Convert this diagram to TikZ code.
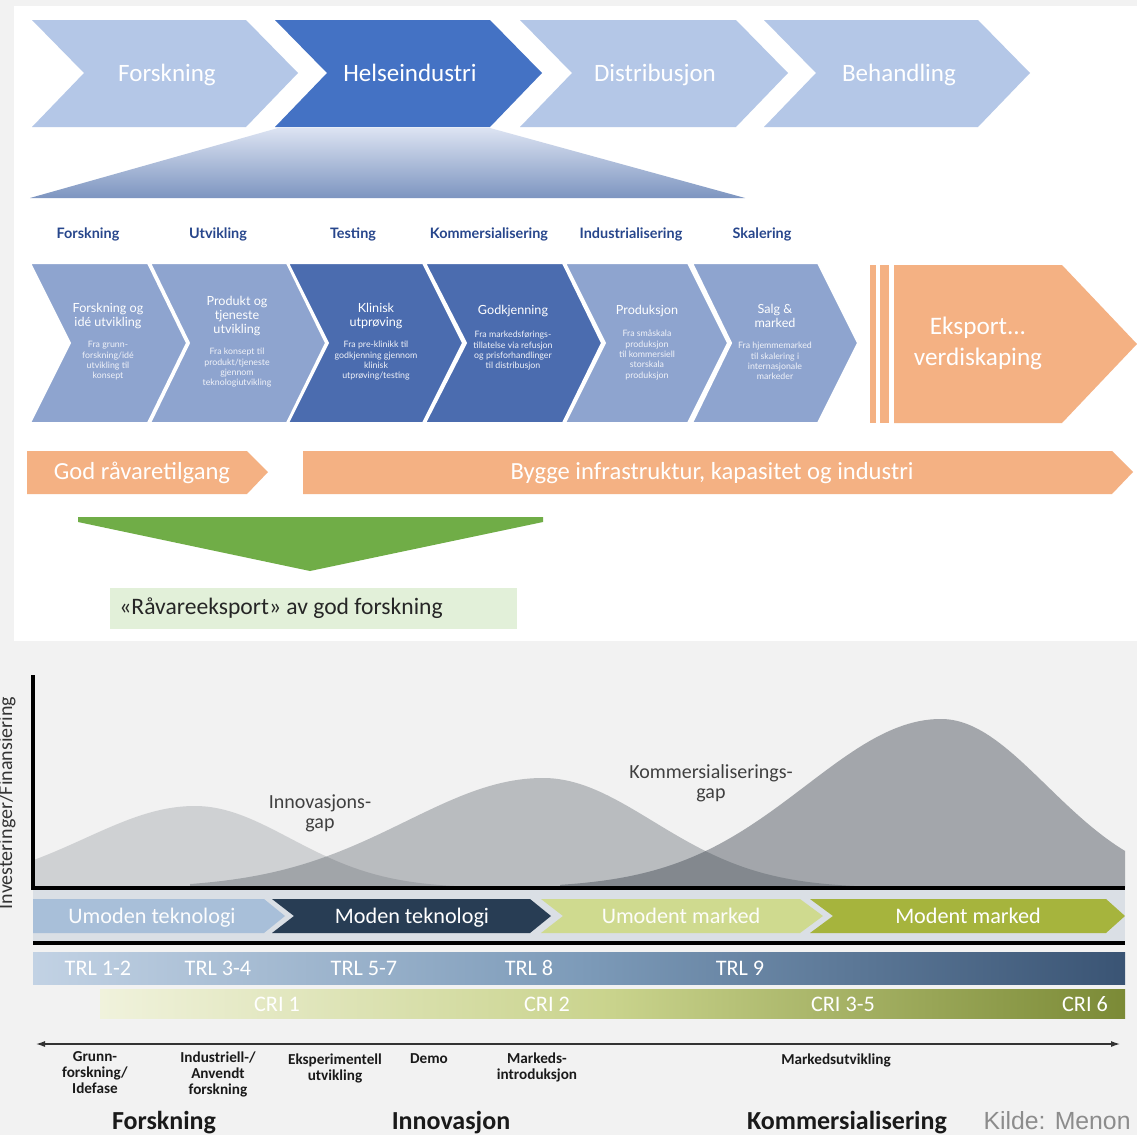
\documentclass[tikz,border=0pt]{standalone}
\usepackage{fontspec}
\setmainfont{Carlito}
\newfontfamily\lato{Lato}
\newfontfamily\libsans{Liberation Sans}
\usetikzlibrary{arrows.meta}
\definecolor{bg}{HTML}{F2F2F2}
\definecolor{chevL}{HTML}{B4C7E7}
\definecolor{chevD}{HTML}{4472C4}
\definecolor{trapT}{HTML}{DCE3F2}
\definecolor{trapB}{HTML}{7D95C0}
\definecolor{mchevL}{HTML}{8EA4CF}
\definecolor{mchevD}{HTML}{4B6CAF}
\definecolor{hdrblue}{HTML}{27468C}
\definecolor{orng}{HTML}{F4B183}
\definecolor{grn}{HTML}{70AD47}
\definecolor{lgrn}{HTML}{E2F0D9}
\definecolor{crv}{RGB}{60,68,78}
\definecolor{band}{HTML}{DADFE5}
\definecolor{ph1}{HTML}{A8BFD9}
\definecolor{ph2}{HTML}{283D54}
\definecolor{ph3}{HTML}{CFDA8F}
\definecolor{ph4}{HTML}{A6B43D}
\definecolor{trlA}{HTML}{C2D2E4}
\definecolor{trlB}{HTML}{7D9BB9}
\definecolor{trlC}{HTML}{3A5474}
\definecolor{criA}{HTML}{F0F2DC}
\definecolor{criB}{HTML}{C9D38C}
\definecolor{criC}{HTML}{7B8A36}
\definecolor{txtd}{HTML}{1A1A1A}
\tikzset{
  capc/.style={text height=#1, text depth=0pt, inner sep=0pt, anchor=center},
  topchev/.style={text=white, font=\fontsize{12.5}{15}\selectfont, capc=8pt},
  hdr/.style={text=hdrblue, font=\lato\bfseries\fontsize{7.2}{8}\selectfont, capc=5pt},
  mtitle/.style={text=white, align=center, inner sep=0pt, font=\lato\fontsize{6.3}{7}\selectfont},
  msub/.style={text=white!92!mchevD, align=center, inner sep=0pt, font=\lato\fontsize{4.4}{5.15}\selectfont},
  bigw/.style={text=white, font=\fontsize{12.3}{15.5}\selectfont},
  phase/.style={font=\fontsize{11.1}{13}\selectfont, capc=7.1pt},
  gaplbl/.style={text=black!75, align=center, inner sep=0pt, font=\fontsize{10}{10}\selectfont},
  axl/.style={text=txtd, align=center, inner sep=0pt, anchor=north, font=\bfseries\fontsize{7.6}{8}\selectfont},
  bighdr/.style={text=txtd, font=\bfseries\fontsize{13}{15}\selectfont, capc=8.4pt},
  whiteedge/.style={draw=white, line width=1pt}
}
\begin{document}
\begin{tikzpicture}[x=0.5pt,y=-0.5pt]
\useasboundingbox (0,0) rectangle (1137,1135);
\fill[bg] (0,0) rectangle (1137,1135);
\fill[white] (14,6) rectangle (1137,641);

% ---------- top value chain ----------
\fill[chevL] (32,20) -- (246,20) -- (298,73) -- (246,127) -- (32,127) -- (84,73) -- cycle;
\fill[chevD] (275,20) -- (490,20) -- (542,73) -- (490,127) -- (275,127) -- (327,73) -- cycle;
\fill[chevL] (520,20) -- (736,20) -- (788,73) -- (736,127) -- (520,127) -- (572,73) -- cycle;
\fill[chevL] (764,20) -- (978,20) -- (1030,73) -- (978,127) -- (764,127) -- (816,73) -- cycle;
\node[topchev] (c1) at (167,73) {Forskning};
\node[topchev] (c2) at (410,73) {Helseindustri};
\node[topchev] (c3) at (655,73) {Distribusjon};
\node[topchev] (c4) at (899,73) {Behandling};
\shade[top color=trapT, bottom color=trapB] (278,128) -- (490,128) -- (745,198) -- (30,198) -- cycle;

% ---------- phase headers ----------
\node[hdr] (h1) at (88,233) {Forskning};
\node[hdr] (h2) at (218,233) {Utvikling};
\node[hdr] (h3) at (353,233) {Testing};
\node[hdr] (h4) at (489,233) {Kommersialisering};
\node[hdr] (h5) at (631,233) {Industrialisering};
\node[hdr] (h6) at (762,233) {Skalering};

% ---------- middle chevrons ----------
\filldraw[fill=mchevL, whiteedge] (30,263) -- (148,263) -- (187,343) -- (148,423) -- (30,423) -- (70,343) -- cycle;
\filldraw[fill=mchevL, whiteedge] (150,263) -- (287,263) -- (326,343) -- (287,423) -- (150,423) -- (189,343) -- cycle;
\filldraw[fill=mchevD, whiteedge] (288,263) -- (423,263) -- (463,343) -- (423,423) -- (288,423) -- (328,343) -- cycle;
\filldraw[fill=mchevD, whiteedge] (425,263) -- (563,263) -- (602,343) -- (563,423) -- (425,423) -- (466,343) -- cycle;
\filldraw[fill=mchevL, whiteedge] (565,263) -- (688,263) -- (728,343) -- (688,423) -- (565,423) -- (605,343) -- cycle;
\filldraw[fill=mchevL, whiteedge] (692,263) -- (818,263) -- (858,343) -- (818,423) -- (692,423) -- (731,343) -- cycle;

\node[mtitle] (t1) at (108,316) {Forskning og\\idé utvikling};
\node[msub]   (s1) at (108,361) {Fra grunn-\\forskning/idé\\utvikling til\\konsept};
\node[mtitle] (t2) at (237,316) {Produkt og\\tjeneste\\utvikling};
\node[msub]   (s2) at (237,368) {Fra konsept til\\produkt/tjeneste\\gjennom\\teknologiutvikling};
\node[mtitle] (t3) at (376,316) {Klinisk\\utprøving};
\node[msub]   (s3) at (376,361) {Fra pre-klinikk til\\godkjenning gjennom\\klinisk\\utprøving/testing};
\node[mtitle] (t4) at (513,311) {Godkjenning};
\node[msub]   (s4) at (513,351) {Fra markedsførings-\\tillatelse via refusjon\\og prisforhandlinger\\til distribusjon};
\node[mtitle] (t5) at (647,311) {Produksjon};
\node[msub]   (s5) at (647,355) {Fra småskala\\produksjon\\til kommersiell\\storskala\\produksjon};
\node[mtitle] (t6) at (775,316) {Salg \&\\marked};
\node[msub]   (s6) at (775,361) {Fra hjemmemarked\\til skalering i\\internasjonale\\markeder};

% ---------- export ----------
\fill[orng] (870,265) rectangle (876,423);
\fill[orng] (880,265) rectangle (889,423);
\fill[orng] (894,265) -- (1062,265) -- (1137,344) -- (1062,423) -- (894,423) -- cycle;
\node[bigw, align=center, inner sep=0pt, font=\fontsize{12.6}{15.5}\selectfont] (ex) at (978,343) {Eksport...\\verdiskaping};

% ---------- orange bars ----------
\fill[orng] (27,451) -- (247,451) -- (268,472) -- (247,494) -- (27,494) -- cycle;
\fill[orng] (303,451) -- (1112,451) -- (1133,472) -- (1112,494) -- (303,494) -- cycle;
\node[bigw, capc=7.9pt] (gr) at (142,472) {God råvaretilgang};
\node[bigw, capc=7.9pt] (by) at (712,472) {Bygge infrastruktur, kapasitet og industri};

% ---------- green funnel ----------
\fill[grn] (78,517) -- (543,517) -- (543,522) -- (310,571) -- (78,522) -- cycle;
\fill[lgrn] (110,588) rectangle (517,629);
\node[text=black!85, font=\fontsize{11.8}{14}\selectfont, capc=7.6pt, anchor=west] (rv) at (119,607) {«Råvareeksport» av god forskning};

% ---------- bottom chart: curves ----------
\fill[crv, fill opacity=0.19] (33,888) -- plot[domain=33:195, samples=50] (\x,{888-82*exp(-0.5*((\x-195)/110)*((\x-195)/110))})
   -- plot[domain=195:540, samples=60] (\x,{888-82*exp(-0.5*((\x-195)/95)*((\x-195)/95))}) -- (540,888) -- cycle;
\fill[crv, fill opacity=0.31] (190,888) -- plot[domain=190:543, samples=60] (\x,{888-110*exp(-0.5*((\x-543)/137)*((\x-543)/137))})
   -- plot[domain=543:860, samples=60] (\x,{888-110*exp(-0.5*((\x-543)/110)*((\x-543)/110))}) -- (860,888) -- cycle;
\fill[crv, fill opacity=0.43] (560,888) -- plot[domain=560:941, samples=70] (\x,{888-169*exp(-0.5*((\x-941)/135)*((\x-941)/135))})
   -- plot[domain=941:1125, samples=50] (\x,{888-169*exp(-0.5*((\x-941)/105.6)*((\x-941)/105.6))}) -- (1125,888) -- cycle;

\node[gaplbl] (g1) at (320,813) {Innovasjons-\\gap};
\node[gaplbl] (g2) at (711,783) {Kommersialiserings-\\gap};

% axis label
\node[rotate=90, anchor=base, inner sep=0pt, text=black!80, font=\fontsize{10}{12}\selectfont] (yl) at (12,803) {Investeringer/Finansiering};

% ---------- phase band ----------
\fill[band] (33,890) rectangle (1125,941);
\fill[ph1] (33,899) -- (264,899) -- (285,916) -- (264,933) -- (33,933) -- cycle;
\fill[ph2] (272,899) -- (530,899) -- (551,916) -- (530,933) -- (272,933) -- (294,916) -- cycle;
\fill[ph3] (541,899) -- (800,899) -- (823,916) -- (800,933) -- (541,933) -- (563,916) -- cycle;
\fill[ph4] (810,899) -- (1106,899) -- (1125,916) -- (1106,933) -- (810,933) -- (833,916) -- cycle;
\node[phase, text=white!95!ph1] (p1) at (152,916) {Umoden teknologi};
\node[phase, text=white] (p2) at (412,916) {Moden teknologi};
\node[phase, text=white!95!ph3] (p3) at (681,916) {Umodent marked};
\node[phase, text=white] (p4) at (968,916) {Modent marked};

% axes
\draw[line width=1.6pt] (33,675) -- (33,888) -- (1125,888);
\draw[line width=1.8pt] (33,943) -- (1125,943);

% ---------- TRL / CRI bars ----------
\shade[left color=trlA, right color=trlC, middle color=trlB] (33,952) rectangle (1125,984);
\node[phase, text=white] (r1) at (98,968) {TRL 1-2};
\node[phase, text=white] (r2) at (218,968) {TRL 3-4};
\node[phase, text=white] (r3) at (364,968) {TRL 5-7};
\node[phase, text=white] (r4) at (529,968) {TRL 8};
\node[phase, text=white] (r5) at (740,968) {TRL 9};
\shade[left color=criA, right color=criC, middle color=criB] (100,989) rectangle (1125,1018);
\node[phase, text=white] (k1) at (277,1004) {CRI 1};
\node[phase, text=white] (k2) at (547,1004) {CRI 2};
\node[phase, text=white] (k3) at (843,1004) {CRI 3-5};
\node[phase, text=white] (k4) at (1085,1004) {CRI 6};

% ---------- timeline ----------
\coordinate (axL) at (36,1044);
\coordinate (axR) at (1120,1044);
\draw[{Latex[length=4.5pt,width=3pt]}-{Latex[length=4.5pt,width=3pt]}, line width=0.6pt, black!80] (axL) -- (axR);
\node[axl] (a1) at (95,1051) {Grunn-\\forskning/\\Idefase};
\node[axl] (a2) at (218,1051) {Industriell-/\\Anvendt\\forskning};
\node[axl] (a3) at (335,1053) {Eksperimentell\\utvikling};
\node[axl] (a4) at (429,1053) {Demo};
\node[axl] (a5) at (537,1052) {Markeds-\\introduksjon};
\node[axl] (a6) at (836,1053) {Markedsutvikling};

\node[bighdr] (b1) at (164,1121) {Forskning};
\node[bighdr] (b2) at (451,1121) {Innovasjon};
\node[bighdr] (b3) at (847,1121) {Kommersialisering};
\node[anchor=base east, inner sep=0pt, text=black!45, font=\libsans\fontsize{12.4}{14}\selectfont] (src) at (1131,1129) {Kilde: Menon};
\end{tikzpicture}
\end{document}
